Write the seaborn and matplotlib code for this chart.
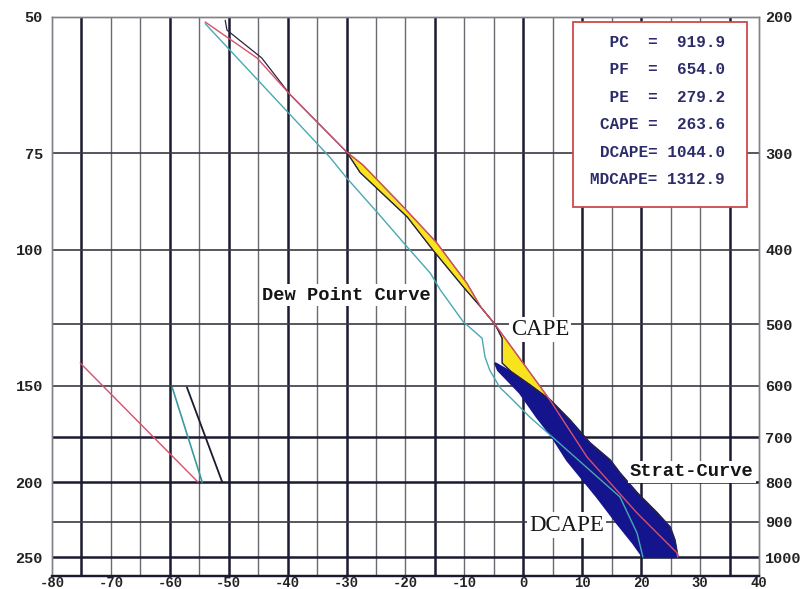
import matplotlib
matplotlib.use("Agg")
import matplotlib.pyplot as plt
from matplotlib.patches import Rectangle
from matplotlib.ticker import NullLocator
import numpy as np
import seaborn as sns

# Environment temperature curve (dark line), pressure in hPa / temperature in C
env_p = [202, 208, 226, 252, 299, 318, 363, 401, 447, 475, 500, 521, 561, 578,
         599, 626, 665, 712, 749, 779, 826, 877, 915, 951, 1000]
env_t = [-50.6, -50.3, -44.4, -39.6, -30.0, -27.7, -19.7, -15.3, -10.2, -7.2,
         -4.8, -3.6, -3.6, -1.8, 1.1, 4.5, 7.9, 11.3, 14.7, 16.4, 19.3, 22.7,
         24.9, 25.7, 26.2]

# Parcel / state curve (red)
parcel_p = [203, 226, 252, 299, 311, 352, 392, 442, 475, 500, 626, 742, 877, 988, 1000]
parcel_t = [-54.0, -45.2, -39.6, -30.0, -27.2, -20.4, -14.7, -9.6, -7.2, -4.8,
            4.5, 10.8, 19.3, 26.1, 26.2]

# Dew point curve (cyan)
dew_p = [204, 304, 323, 358, 397, 429, 451, 496, 521, 551, 573, 603, 626, 659, 699,
         836, 931, 1000]
dew_t = [-54.0, -32.8, -30.0, -24.8, -19.7, -15.8, -14.1, -10.2, -7.0, -6.5, -5.7,
         -4.0, -1.8, 1.1, 4.9, 16.4, 19.3, 20.3]

# Downdraft curve (left edge of the DCAPE area)
down_p = [561, 573, 613, 659, 699, 749, 836, 904, 959, 1000]
down_t = [-4.8, -4.3, -0.6, 2.3, 4.9, 7.4, 12.5, 15.9, 18.6, 20.3]

# Short segments in the lower left corner
ll_red_p, ll_red_t = [561, 800], [-75.2, -55.2]
ll_cyan_p, ll_cyan_t = [603, 800], [-59.6, -54.5]
ll_dark_p, ll_dark_t = [603, 800], [-57.1, -51.1]

# Axis labels
x_ticks = list(range(-80, 41, 10))
left_tick_p = [200, 300, 400, 600, 800, 1000]
left_tick_labels = ["50", "75", "100", "150", "200", "250"]
right_tick_p = [200, 300, 400, 500, 600, 700, 800, 900, 1000]

# Values in the red box
stat_names = ["PC", "PF", "PE", "CAPE", "DCAPE", "MDCAPE"]
stat_values = [919.9, 654.0, 279.2, 263.6, 1044.0, 1312.9]

sns.set_theme(style="white")
plt.rcParams["axes.unicode_minus"] = False
plt.rcParams["font.family"] = ["Liberation Mono", "DejaVu Sans Mono"]

fig = plt.figure(figsize=(8.06, 5.89), dpi=100)
ax = fig.add_axes([0.0645, 0.0221, 0.8772, 0.9491])
ax.set_yscale("log")
ax.set_xlim(-80, 40)
ax.set_ylim(1058, 200)

# grid: every 5 degrees, some lines heavier
thick_x = [-75, -60, -50, -40, -30, -15, 0, 10, 20, 35]
for x in range(-75, 40, 5):
    if x in thick_x:
        ax.axvline(x, color="#1a1a30", lw=1.8, zorder=1)
    else:
        ax.axvline(x, color="#6a6a70", lw=1.0, zorder=1)
for p in right_tick_p[1:]:
    if p in (700, 800, 1000):
        ax.axhline(p, color="#1a1a30", lw=1.8, zorder=1)
    else:
        ax.axhline(p, color="#3a3a45", lw=1.2, zorder=1)

# CAPE (yellow) area between parcel and environment
cape_par = [(t, p) for t, p in zip(parcel_t, parcel_p) if 299 <= p <= 626]
cape_env = [(t, p) for t, p in zip(env_t, env_p) if 299 <= p <= 626][::-1]
cape_poly = np.array(cape_par + cape_env)
ax.fill(cape_poly[:, 0], cape_poly[:, 1], color="#f7e41c", ec="#3a3020", lw=0.7, zorder=2)

# DCAPE (navy) area between downdraft curve and environment
dc_env = [(t, p) for t, p in zip(env_t, env_p) if p >= 570][::-1]
dc_poly = np.array(list(zip(down_t, down_p)) + dc_env)
ax.fill(dc_poly[:, 0], dc_poly[:, 1], color="#14148c", ec="#14148c", lw=1.5, zorder=2)

line_kw = dict(sort=False, estimator=None, legend=False, ax=ax, zorder=3)
sns.lineplot(x=env_t, y=env_p, color="#2a2440", lw=0.9, **line_kw)
sns.lineplot(x=parcel_t, y=parcel_p, color="#d8506a", lw=1.0, **line_kw)
sns.lineplot(x=dew_t, y=dew_p, color="#4aa8b0", lw=1.0, **line_kw)
sns.lineplot(x=ll_red_t, y=ll_red_p, color="#d8506a", lw=1.0, **line_kw)
sns.lineplot(x=ll_cyan_t, y=ll_cyan_p, color="#3a9aa0", lw=1.2, **line_kw)
sns.lineplot(x=ll_dark_t, y=ll_dark_p, color="#1a1a30", lw=1.3, **line_kw)

# curve labels
box = dict(facecolor="white", edgecolor="none", pad=1.5)
ax.text(-30.1, 458, "Dew Point Curve", fontsize=13.5, fontweight="bold", color="#151515",
        ha="center", va="center", bbox=box, zorder=4)
ax.text(28.6, 776, "Strat-Curve", fontsize=13.5, fontweight="bold", color="#151515",
        ha="center", va="center", bbox=box, zorder=4)
ax.text(2.8, 507, "CAPE", fontsize=16.5, family="Liberation Serif", color="#151515",
        ha="center", va="center", bbox=box, zorder=4)
ax.text(7.4, 909, "DCAPE", fontsize=16.5, family="Liberation Serif", color="#151515",
        ha="center", va="center", bbox=box, zorder=4)

# red info box
ax.add_patch(Rectangle((0.737, 0.660), 0.246, 0.331, transform=ax.transAxes,
                       facecolor="white", edgecolor="#cc4a4a", lw=1.3, zorder=5))
row_y = [0.955, 0.906, 0.856, 0.808, 0.757, 0.710]
for name, val, y in zip(stat_names, stat_values, row_y):
    if len(name) <= 4:
        line = f"{name:^4} = {val:6.1f}"
    else:
        line = f"{name}= {val:6.1f}"
    ax.text(0.952, y, line, transform=ax.transAxes, ha="right", va="center",
            fontsize=11.5, fontweight="bold", color="#2c2c6a", zorder=6)

# axes, ticks and labels
ax.set_xticks(x_ticks)
ax.set_xticklabels([str(v) for v in x_ticks])
ax.set_yticks(left_tick_p)
ax.set_yticklabels(left_tick_labels)
ax.yaxis.set_minor_locator(NullLocator())
ax.tick_params(axis="x", length=0, pad=0.2, labelsize=10, labelcolor="#222222")
ax.tick_params(axis="y", length=0, pad=6.5, labelsize=11, labelcolor="#222222")
for lab in ax.get_xticklabels() + ax.get_yticklabels():
    lab.set_fontweight("bold")

ax2 = ax.twinx()
ax2.set_yscale("log")
ax2.set_ylim(1058, 200)
ax2.set_yticks(right_tick_p)
ax2.set_yticklabels([str(p) for p in right_tick_p])
ax2.yaxis.set_minor_locator(NullLocator())
ax2.tick_params(axis="y", length=0, pad=4.5, labelsize=11, labelcolor="#222222")
for lab in ax2.get_yticklabels():
    lab.set_fontweight("bold")
ax2.grid(False)

for a in (ax, ax2):
    for side in ("left", "top", "right"):
        a.spines[side].set_color("#808088")
        a.spines[side].set_linewidth(1.0)
    a.spines["bottom"].set_color("#1a1a30")
    a.spines["bottom"].set_linewidth(1.6)
ax.set_xlabel("")
ax.set_ylabel("")

fig.savefig("out.png", dpi=100)
